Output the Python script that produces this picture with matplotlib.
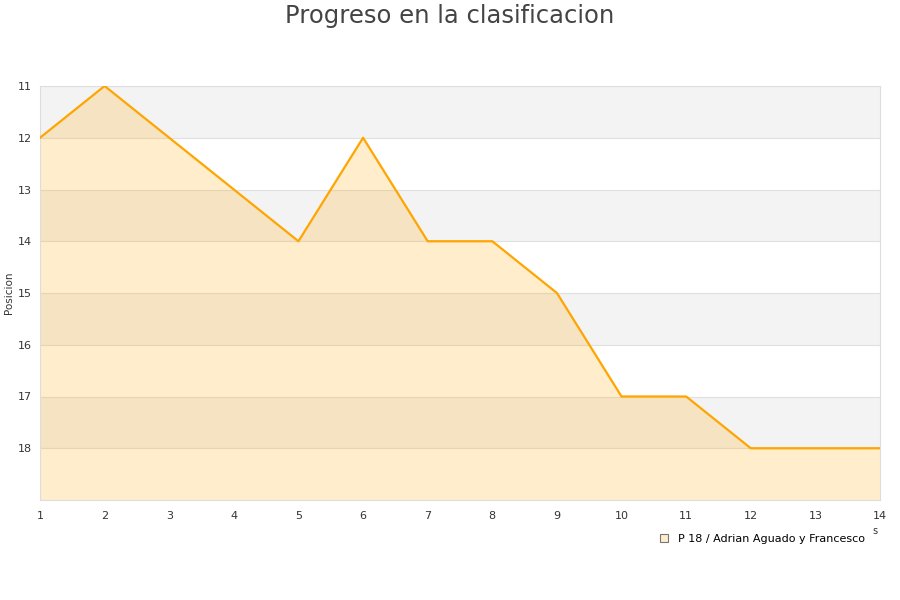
import matplotlib
matplotlib.use("Agg")
import matplotlib.pyplot as plt
from matplotlib.lines import Line2D

jornadas = list(range(1, 15))
posiciones = [12, 11, 12, 13, 14, 12, 14, 14, 15, 17, 17, 18, 18, 18]
serie = "P 18 / Adrian Aguado y Francesco"
y_ticks = [11, 12, 13, 14, 15, 16, 17, 18]

fig = plt.figure(figsize=(9, 6), dpi=100)
ax = fig.add_axes([40 / 900, 100 / 600, 840 / 900, 414 / 600])

# bandas alternas
for i, y0 in enumerate(range(11, 19)):
    if i % 2 == 0:
        ax.axhspan(y0, y0 + 1, color="#f3f3f3", zorder=0, lw=0)
for y in range(12, 19):
    ax.axhline(y, color="#e0e0e0", lw=0.8, zorder=1)

ax.fill_between(jornadas, posiciones, 19, color="#ffa500", alpha=0.2, lw=0, zorder=2)
ax.plot(jornadas, posiciones, color="#ffa500", lw=1.6, zorder=3)

ax.set_xlim(1, 14)
ax.set_ylim(19, 11)
ax.set_xticks(jornadas)
ax.set_yticks(y_ticks)
ax.tick_params(axis="both", length=0, labelsize=8, colors="#333333")
ax.tick_params(axis="x", pad=8)
ax.tick_params(axis="y", pad=6)
for s in ax.spines.values():
    s.set_color("#dddddd")
ax.set_ylabel("Posicion", fontsize=7.5, color="#333333", labelpad=0)
ax.yaxis.set_label_coords(-26 / 840, 0.5)

fig.text(0.5, 1 - 16 / 600, "Progreso en la clasificacion", ha="center", va="center",
         fontsize=17.5, color="#444444")
fig.text(875 / 900, 1 - 531 / 600, "s", ha="center", va="center", fontsize=7, color="#333333")

handle = Line2D([], [], marker="s", ls="none", markersize=6,
                markerfacecolor="#ffeccc", markeredgecolor="#777777", markeredgewidth=0.8)
fig.legend([handle], [serie], loc="center right", bbox_to_anchor=(869 / 900, 1 - 539 / 600),
           frameon=False, fontsize=8, handletextpad=0.2, borderaxespad=0)

fig.savefig("out.png", dpi=100)
